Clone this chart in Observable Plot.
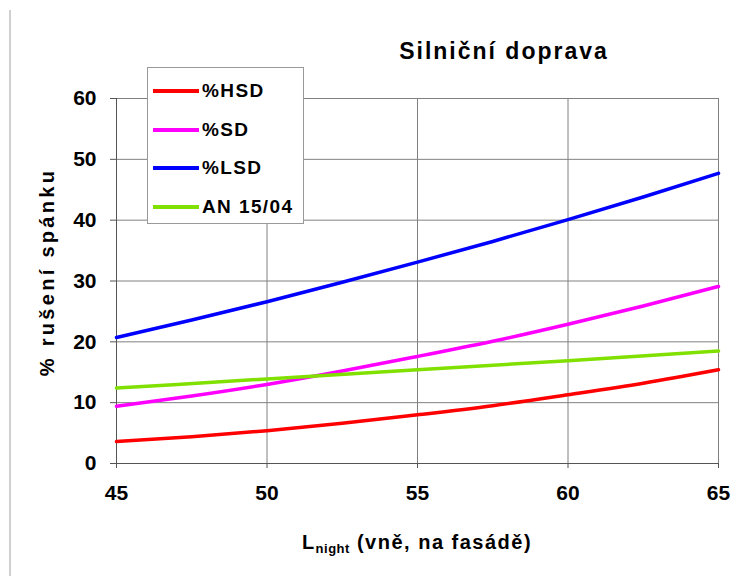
<!DOCTYPE html>
<html><head><meta charset="utf-8">
<script src="https://cdn.jsdelivr.net/npm/d3@7"></script>
<script src="https://cdn.jsdelivr.net/npm/@observablehq/plot@0.6"></script>
<style>
body{margin:0;background:#fff;}
#wrap{position:relative;width:751px;height:576px;font-family:"Liberation Sans",Arial,sans-serif;font-weight:bold;color:#000;}
#border{position:absolute;left:9px;top:10px;width:0;height:566px;border-left:2px solid #d0d0d0;}
#title{position:absolute;left:504px;top:51px;transform:translate(-50%,-50%);white-space:nowrap;font-size:23px;letter-spacing:2px;}
#ylab{position:absolute;left:47px;top:272px;transform:translate(-50%,-50%) rotate(-90deg);white-space:nowrap;font-size:20px;letter-spacing:3.3px;}
#xlab{position:absolute;left:417px;top:543px;transform:translate(-50%,-50%);white-space:nowrap;font-size:20px;letter-spacing:1.5px;}
#xlab sub{font-size:13px;vertical-align:-4px;letter-spacing:0.5px;}
#legend{position:absolute;left:147px;top:67px;width:157px;height:157px;background:#fff;border:1px solid #999;box-sizing:border-box;}
.row{position:absolute;left:5px;height:24px;display:flex;align-items:center;font-size:19px;letter-spacing:1.4px;white-space:nowrap;}
.row span.sw{display:inline-block;width:46px;height:4px;margin-right:3px;}
svg{position:absolute;left:0;top:0;}
</style></head>
<body><div id="wrap"><div id="border"></div></div>
<script>
const xs = [45, 47.5, 50, 52.5, 55, 57.5, 60, 62.5, 65];
const hsd = [3.6, 4.4, 5.4, 6.6, 8.0, 9.5, 11.3, 13.2, 15.4];
const sd  = [9.4, 11.1, 13.0, 15.2, 17.6, 20.1, 22.9, 25.9, 29.1];
const lsd = [20.7, 23.6, 26.6, 29.8, 33.1, 36.5, 40.1, 43.8, 47.7];
const anX = [45, 50, 55, 60, 65];
const an  = [12.4, 13.9, 15.4, 16.9, 18.5];
const seriesNames = ["%HSD", "%SD", "%LSD", "AN 15/04"];
const seriesColors = ["#ff0000", "#ff00ff", "#0000ff", "#80e000"];
const xTicks = [45, 50, 55, 60, 65];
const yTicks = [0, 10, 20, 30, 40, 50, 60];
const titleText = "Silniční doprava";
const yLabel = "% rušení spánku";

const rows = [];
xs.forEach((x, i) => {
  rows.push({x, y: hsd[i], s: seriesNames[0]});
  rows.push({x, y: sd[i], s: seriesNames[1]});
  rows.push({x, y: lsd[i], s: seriesNames[2]});
});
anX.forEach((x, i) => rows.push({x, y: an[i], s: seriesNames[3]}));

const chart = Plot.plot({
  width: 751, height: 576,
  marginLeft: 116, marginRight: 33, marginTop: 98, marginBottom: 113,
  style: {fontFamily: "Liberation Sans, Arial, sans-serif", fontWeight: "bold", fontSize: "20px", background: "transparent", overflow: "visible"},
  x: {domain: [45, 65]},
  y: {domain: [0, 60]},
  color: {domain: seriesNames, range: seriesColors},
  marks: [
    Plot.gridX(xTicks, {stroke: "#808080", strokeOpacity: 1, strokeWidth: 1}),
    Plot.gridY(yTicks, {stroke: "#808080", strokeOpacity: 1, strokeWidth: 1}),
    Plot.ruleX([45], {stroke: "#555"}),
    Plot.ruleY([0], {stroke: "#555"}),
    Plot.axisX(xTicks, {tickSize: 5, tickPadding: 17, fontSize: 21, fontWeight: "bold", label: null, stroke: "#555", fill: "#000"}),
    Plot.axisY(yTicks, {tickSize: 6, tickPadding: 14, fontSize: 21, fontWeight: "bold", label: null, stroke: "#555", fill: "#000"}),
    Plot.line(rows, {x: "x", y: "y", z: "s", stroke: "s", strokeWidth: 3.5, curve: "natural"})
  ]
});
const wrap = document.getElementById("wrap");
wrap.appendChild(chart);

const t = document.createElement("div"); t.id = "title"; t.textContent = titleText; wrap.appendChild(t);
const yl = document.createElement("div"); yl.id = "ylab"; yl.textContent = yLabel; wrap.appendChild(yl);
const xl = document.createElement("div"); xl.id = "xlab"; xl.innerHTML = "L<sub>night</sub> (vně, na fasádě)"; wrap.appendChild(xl);
const lg = document.createElement("div"); lg.id = "legend";
seriesNames.forEach((n, i) => {
  const r = document.createElement("div"); r.className = "row";
  r.style.top = (11 + i * 38.7) + "px";
  r.innerHTML = `<span class="sw" style="background:${seriesColors[i]}"></span>${n}`;
  lg.appendChild(r);
});
wrap.appendChild(lg);
</script></body></html>
